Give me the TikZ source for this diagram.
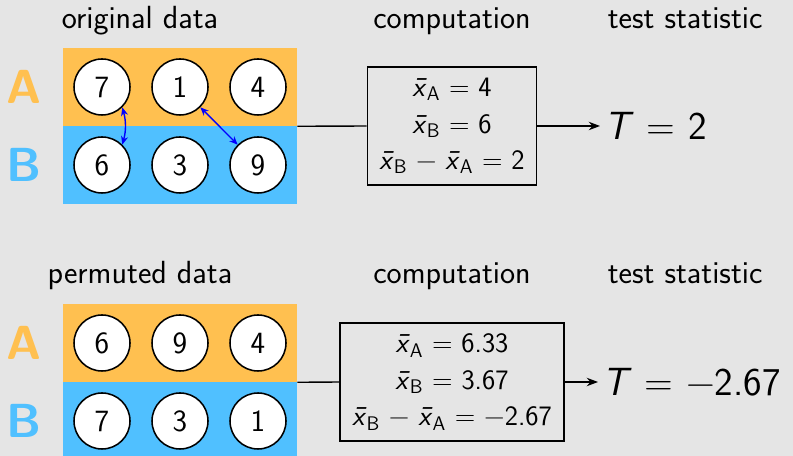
\documentclass[tikz,border=0pt]{standalone}
\usepackage{fontspec}
\usetikzlibrary{arrows.meta, positioning}
\renewcommand{\familydefault}{\sfdefault}
\definecolor{bggray}{RGB}{229,229,229}
\definecolor{grpA}{RGB}{255,192,80}
\definecolor{grpB}{RGB}{80,192,255}
% group mean: slanted x with a bar, upright subscript
\newcommand{\gmean}[1]{\textit{\=x}\textsubscript{#1}}
\begin{document}
\begin{tikzpicture}[
    row/.style={minimum width=5.85cm, minimum height=1.95cm, inner sep=0pt},
    obs/.style={draw, circle, fill=white, line width=1.1pt, minimum size=1.4cm,
                inner sep=0pt, font=\fontsize{22}{26}\selectfont},
    grp/.style={font=\fontsize{34}{40}\selectfont\bfseries},
    head/.style={font=\fontsize{22.8}{26}\selectfont, anchor=base},
    compbox/.style={draw, line width=1.1pt, align=center, minimum height=2.95cm,
                    inner xsep=0.3cm, font=\fontsize{20}{26}\selectfont},
    stat/.style={font=\fontsize{28}{32}\selectfont, anchor=west},
    swap/.style={{Stealth[length=6pt, width=5pt]}-{Stealth[length=6pt, width=5pt]},
                 blue, line width=1pt},
    >={Stealth[length=8pt, width=6pt]}
  ]
  \useasboundingbox (0, 0) rectangle (19.825, 11.4);
  \fill[bggray] (0, 0) rectangle (19.825, 11.4);

  % Original data
  \node[head] at (3.5, 10.675) {original data};
  \node[head] at (11.3, 10.675) {computation};
  \node[head, anchor=base west] at (15.07, 10.675) {test statistic};

  \node[row, fill=grpA] (origA) at (4.5, 9.225) {};
  \node[row, fill=grpB] (origB) at (4.5, 7.275) {};
  \node[grp, text=grpA] at (0.6, 9.225) {A};
  \node[grp, text=grpB] at (0.6, 7.275) {B};

  \node[obs] (o1) at (2.55, 9.225) {7};
  \node[obs] (o2) at (4.5, 9.225)  {1};
  \node[obs] (o3) at (6.45, 9.225) {4};
  \node[obs] (o4) at (2.55, 7.275) {6};
  \node[obs] (o5) at (4.5, 7.275)  {3};
  \node[obs] (o6) at (6.45, 7.275) {9};

  % Label swaps
  \draw[swap] (o1.south east) to[bend left=15] (o4.north east);
  \draw[swap] (o2.south east) -- (o6.north west);

  \node[compbox] (origBox) at (11.3, 8.25)
    {\gmean{A} = 4\\ \gmean{B} = 6\\ \gmean{B} − \gmean{A} = 2};
  \node[stat] (origT) at (15.0, 8.25) {\textit{T} = 2};
  \draw[line width=1pt] (origA.south east) -- (origBox.west);
  \draw[->, line width=1pt] (origBox.east) -- (origT.west);

  % Permuted data
  \node[head] at (3.5, 4.3) {permuted data};
  \node[head] at (11.3, 4.3) {computation};
  \node[head, anchor=base west] at (15.07, 4.3) {test statistic};

  \node[row, fill=grpA] (permA) at (4.5, 2.825) {};
  \node[row, fill=grpB] (permB) at (4.5, 0.875) {};
  \node[grp, text=grpA] at (0.6, 2.825) {A};
  \node[grp, text=grpB] at (0.6, 0.875) {B};

  \node[obs] (p1) at (2.55, 2.825) {6};
  \node[obs] (p2) at (4.5, 2.825)  {9};
  \node[obs] (p3) at (6.45, 2.825) {4};
  \node[obs] (p4) at (2.55, 0.875) {7};
  \node[obs] (p5) at (4.5, 0.875)  {3};
  \node[obs] (p6) at (6.45, 0.875) {1};

  \node[compbox] (permBox) at (11.3, 1.85)
    {\gmean{A} = 6.33\\ \gmean{B} = 3.67\\ \gmean{B} − \gmean{A} = −2.67};
  \node[stat] (permT) at (14.95, 1.85) {\textit{T} = −2.67};
  \draw[line width=1pt] (permA.south east) -- (permBox.west);
  \draw[->, line width=1pt] (permBox.east) -- (permT.west);
\end{tikzpicture}
\end{document}
